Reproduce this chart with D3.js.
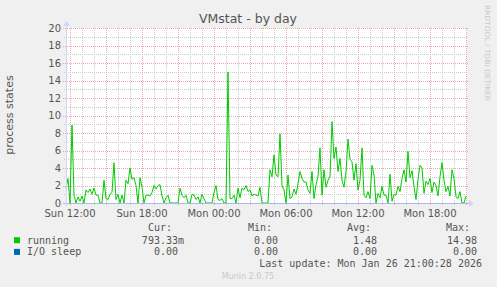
<!DOCTYPE html>
<html>
<head>
<meta charset="utf-8">
<script src="https://cdn.jsdelivr.net/npm/d3@7"></script>
<style>
  body { margin: 0; background: #f0f0f0; }
  svg { display: block; font-family: "DejaVu Sans", sans-serif; }
  .mono { font-family: "DejaVu Sans Mono", monospace; }
</style>
</head>
<body>
<div id="chart"></div>
<script>
// Data: one sample every 10 minutes, Sun 11:40 -> Mon 21:00 (UTC)
const startTime = Date.UTC(2026, 0, 25, 11, 40);
const endTime = Date.UTC(2026, 0, 26, 21, 0);
const stepMinutes = 10;

const running = [
  1.7, 2.8, 0, 8.9, 0.9, 0, 0.7, 0.2, 0.8, 0,
  1.5, 1.2, 1.6, 1.0, 1.7, 0.9, 0.9, 0, 0, 2.6,
  0.5, 0.4, 1.0, 1.2, 4.6, 0.4, 1.0, 0, 0.9, 0,
  2.6, 2.2, 4.0, 2.7, 2.9, 2.0, 0, 2.9, 1.8, 0,
  0.9, 0.9, 0.8, 1.2, 2.0, 1.6, 2.0, 2.1, 0.8, 0,
  0.6, 0.9, 0, 0, 0, 0, 0, 1.7, 0.9, 0.6,
  0.9, 0, 0, 1.0, 0.9, 0.4, 0.7, 0, 1.0, 0.5,
  0, 0, 0, 0, 1.2, 2.0, 0.4, 0.3, 0.5, 0,
  0, 14.98, 0.5, 0.5, 0.9, 0, 1.7, 0.6, 1.7, 1.5,
  2.0, 1.3, 1.5, 0.8, 1.0, 0.9, 0.8, 1.8, 0, 0,
  0, 0, 3.8, 3.0, 5.5, 3.2, 3.0, 7.9, 2.0, 1.5,
  0, 3.2, 0.5, 0.7, 1.6, 1.0, 2.2, 3.6, 2.8, 2.4,
  2.4, 1.5, 1.1, 3.6, 0.5, 2.1, 3.0, 6.3, 0.9, 3.8,
  1.8, 2.6, 3.0, 9.3, 5.1, 6.4, 3.6, 5.1, 2.6, 1.8,
  3.6, 7.3, 5.0, 4.7, 2.6, 4.5, 1.5, 2.6, 6.3, 0.9,
  0.6, 1.3, 0.5, 4.3, 3.2, 0, 1.1, 0.6, 1.9, 0.9,
  0.9, 0, 3.3, 0.2, 1.0, 0.9, 1.9, 1.3, 2.8, 3.8,
  2.4, 5.9, 2.9, 3.7, 1.9, 0.4, 2.7, 4.3, 4.0, 1.1,
  2.5, 2.1, 2.8, 1.2, 2.4, 2.0, 0.8, 3.0, 4.6, 2.6,
  1.3, 1.9, 0.8, 3.8, 2.8, 0.7, 0.5, 1.3, 0, 0,
  0.79
];

const yTickValues = [0, 2, 4, 6, 8, 10, 12, 14, 16, 18, 20];
const yMinorValues = [1, 3, 5, 7, 9, 11, 13, 15, 17, 19];

const legendNames = ["running", "I/O sleep"];
const legendColors = ["#00cc00", "#0066b3"];
const legendHeaders = ["Cur:", "Min:", "Avg:", "Max:"];
const legendValues = [
  ["793.33m", "0.00", "1.48", "14.98"],
  ["0.00", "0.00", "0.00", "0.00"]
];
const lastUpdate = "Last update: Mon Jan 26 21:00:28 2026";

const W = 497, H = 287;
const plot = { left: 66, right: 466, top: 28, bottom: 203 };

const svg = d3.select("#chart").append("svg")
  .attr("width", W)
  .attr("height", H);

svg.append("rect").attr("width", W).attr("height", H).attr("fill", "#f0f0f0");

const x = d3.scaleUtc()
  .domain([new Date(startTime), new Date(endTime)])
  .range([plot.left, plot.right]);

const y = d3.scaleLinear()
  .domain([0, 20])
  .range([plot.bottom, plot.top]);

const data = running.map((v, i) => ({ t: new Date(startTime + i * stepMinutes * 60000), v }));

// Canvas
svg.append("rect")
  .attr("x", plot.left).attr("y", plot.top)
  .attr("width", plot.right - plot.left + 1).attr("height", plot.bottom - plot.top)
  .attr("fill", "#ffffff");

// Grid
const grid = svg.append("g").attr("shape-rendering", "crispEdges");
const minorColor = "#cccccc", majorColor = "#e6acac";

const hourTicks = x.ticks(d3.utcHour.every(1));
const majorHours = x.ticks(d3.utcHour.every(3));
const labelHours = x.ticks(d3.utcHour.every(6));

grid.selectAll(".vminor").data(hourTicks.filter(d => d.getUTCHours() % 3 !== 0))
  .join("line")
  .attr("x1", d => Math.round(x(d)) + 0.5).attr("x2", d => Math.round(x(d)) + 0.5)
  .attr("y1", plot.top).attr("y2", plot.bottom + 2)
  .attr("stroke", minorColor).attr("stroke-dasharray", "1,1");

grid.selectAll(".hminor").data(yMinorValues)
  .join("line")
  .attr("x1", plot.left - 2).attr("x2", plot.right + 2)
  .attr("y1", d => Math.round(y(d)) + 0.5).attr("y2", d => Math.round(y(d)) + 0.5)
  .attr("stroke", minorColor).attr("stroke-dasharray", "1,1");

grid.selectAll(".vmajor").data(majorHours)
  .join("line")
  .attr("x1", d => Math.round(x(d)) + 0.5).attr("x2", d => Math.round(x(d)) + 0.5)
  .attr("y1", plot.top).attr("y2", plot.bottom + 3)
  .attr("stroke", majorColor).attr("stroke-dasharray", "1,1");

grid.selectAll(".hmajor").data(yTickValues)
  .join("line")
  .attr("x1", plot.left - 3).attr("x2", plot.right + 3)
  .attr("y1", d => Math.round(y(d)) + 0.5).attr("y2", d => Math.round(y(d)) + 0.5)
  .attr("stroke", majorColor).attr("stroke-dasharray", "1,1");

// Y labels
svg.append("g").selectAll("text").data(yTickValues)
  .join("text")
  .attr("x", 61).attr("y", d => y(d) + 3.6)
  .attr("text-anchor", "end")
  .attr("font-size", 10).attr("fill", "#555")
  .text(d => d);

// X labels
svg.append("g").selectAll("text").data(labelHours)
  .join("text")
  .attr("x", d => x(d)).attr("y", 216.5)
  .attr("text-anchor", "middle")
  .attr("font-size", 10).attr("fill", "#555")
  .text(d => d3.utcFormat("%a %H:%M")(d));

// Series line
const line = d3.line()
  .x(d => x(d.t))
  .y(d => y(d.v));

svg.append("path")
  .datum(data)
  .attr("fill", "none")
  .attr("stroke", legendColors[0])
  .attr("stroke-width", 1)
  .attr("d", line);

// Axes with arrows
const axisColor = "#a8b8f0";
svg.append("line")
  .attr("x1", plot.left - 3).attr("x2", plot.right + 4)
  .attr("y1", plot.bottom + 0.5).attr("y2", plot.bottom + 0.5)
  .attr("stroke", axisColor).attr("shape-rendering", "crispEdges");
svg.append("line")
  .attr("x1", plot.left + 0.5).attr("x2", plot.left + 0.5)
  .attr("y1", plot.top - 4).attr("y2", plot.bottom + 3)
  .attr("stroke", "#cfd6f8").attr("shape-rendering", "crispEdges");
svg.append("path")
  .attr("d", `M${plot.right + 3},${plot.bottom - 3} L${plot.right + 8},${plot.bottom + 0.5} L${plot.right + 3},${plot.bottom + 4} Z`)
  .attr("fill", "#cfd6f8");
svg.append("path")
  .attr("d", `M${plot.left - 3},${plot.top - 2} L${plot.left + 0.5},${plot.top - 7} L${plot.left + 4},${plot.top - 2} Z`)
  .attr("fill", "#cfd6f8");

// Title and axis label
svg.append("text")
  .attr("x", 248).attr("y", 23)
  .attr("text-anchor", "middle")
  .attr("font-size", 12.5).attr("fill", "#555")
  .text("VMstat - by day");

svg.append("text")
  .attr("transform", "translate(13,115) rotate(-90)")
  .attr("text-anchor", "middle")
  .attr("font-size", 11).attr("fill", "#555")
  .text("process states");

svg.append("text")
  .attr("transform", "translate(485,5) rotate(90)")
  .attr("text-anchor", "start")
  .attr("font-size", 7).attr("fill", "#c8c8c8")
  .attr("textLength", 96).attr("lengthAdjust", "spacingAndGlyphs")
  .text("RRDTOOL / TOBI OETIKER");

// Legend
const charW = 6.02;
const headerEnds = [172, 272, 371, 470];
const valueEnds = [178, 278, 377, 477];
const rowBase = [243.5, 255.2];

const legend = svg.append("g").attr("class", "mono").attr("font-size", 10).attr("fill", "#555");

legend.selectAll(".hdr").data(legendHeaders)
  .join("text")
  .attr("x", (d, i) => headerEnds[i]).attr("y", 231.2)
  .attr("text-anchor", "end")
  .text(d => d);

legendNames.forEach((name, r) => {
  legend.append("rect")
    .attr("x", 14).attr("y", rowBase[r] - 6.3)
    .attr("width", 6).attr("height", 6)
    .attr("fill", legendColors[r]);
  legend.append("text")
    .attr("x", 27).attr("y", rowBase[r])
    .text(name);
  legend.selectAll(".v" + r).data(legendValues[r])
    .join("text")
    .attr("x", (d, i) => valueEnds[i] + (/[a-z]$/i.test(d) ? charW : 0))
    .attr("y", rowBase[r])
    .attr("text-anchor", "end")
    .text(d => d);
});

legend.append("text")
  .attr("x", 482).attr("y", 266.8)
  .attr("text-anchor", "end")
  .text(lastUpdate);

svg.append("text")
  .attr("x", 248).attr("y", 279)
  .attr("text-anchor", "middle")
  .attr("font-size", 8).attr("fill", "#c8c8c8")
  .text("Munin 2.0.75");
</script>
</body>
</html>
